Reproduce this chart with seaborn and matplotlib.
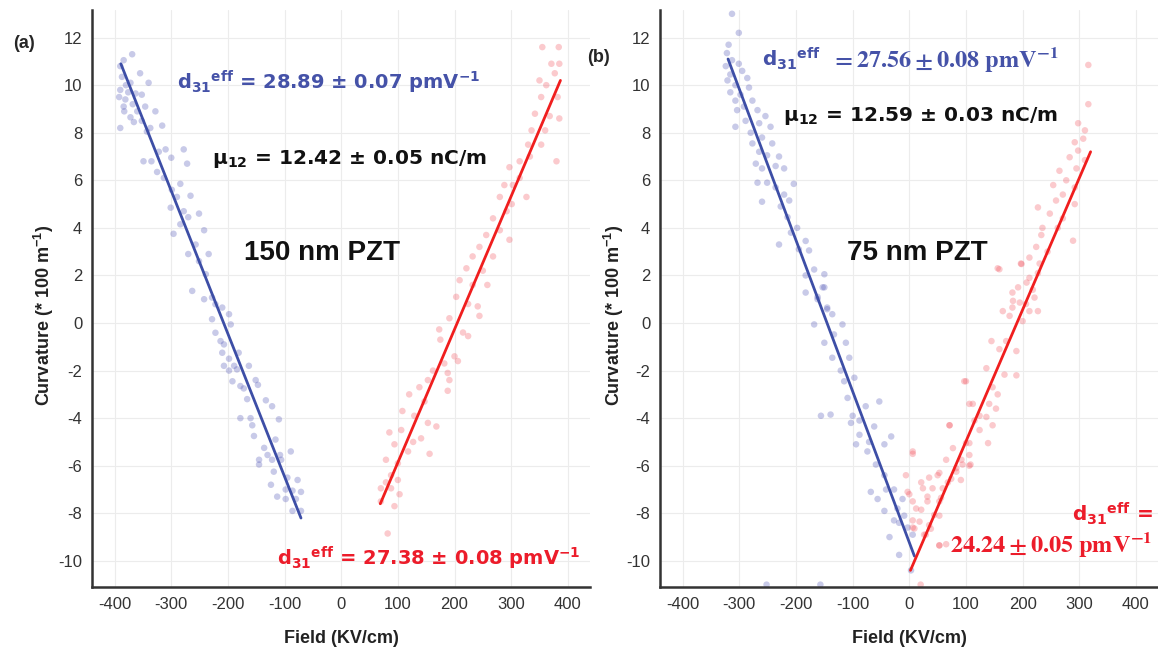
import matplotlib
matplotlib.use("Agg")
import matplotlib.pyplot as plt
import seaborn as sns

# ---------------- data ----------------
# Panel (a): 150 nm PZT
a_blue_x = [-369, -384, -390, -355, -387, -372, -340, -390, -363, -352, -381, -384, -346, -328,
            -372, -352, -366, -390, -337, -316, -343, -310, -278, -322, -349, -335, -300, -272,
            -325, -313, -284, -299, -266, -290, -301, -278, -251, -270, -284, -242, -296, -257,
            -234, -270, -251, -239, -263, -228, -380, -376, -368, -360, -392, -383,
            -242, -222, -210, -198, -228, -195, -222, -213, -207, -210, -181, -198, -207, -189,
            -163, -198, -184, -192, -151, -178, -147, -172, -166, -133, -122, -178, -160, -110,
            -157, -154, -116, -136, -89, -130, -145, -122, -108, -106, -145, -119, -95, -77,
            -124, -98, -86, -71, -113, -98, -80, -86, -71]
a_blue_y = [11.3, 11.05, 10.8, 10.5, 10.35, 10.1, 10.1, 9.8, 9.65, 9.6, 9.4, 9.1, 9.1, 8.9,
            8.65, 8.5, 8.45, 8.2, 8.2, 8.3, 8.05, 7.3, 7.3, 7.2, 6.8, 6.8, 6.95, 6.7,
            6.35, 6.1, 5.85, 5.6, 5.35, 5.3, 4.85, 4.7, 4.6, 4.45, 4.15, 3.9, 3.75, 3.3,
            2.9, 2.9, 2.6, 2.05, 1.35, 1.07, 10.0, 9.7, 9.2, 8.9, 9.5, 8.9,
            1.0, 0.79, 0.65, 0.37, 0.16, -0.06, -0.41, -0.76, -0.9, -1.25, -1.25, -1.5, -1.8, -1.8,
            -1.8, -2.0, -1.95, -2.45, -2.4, -2.65, -2.6, -2.75, -3.2, -3.25, -3.5, -4.0, -4.0, -4.05,
            -4.3, -4.75, -4.9, -5.25, -5.4, -5.55, -5.75, -5.75, -5.55, -5.75, -5.95, -6.25, -6.5, -6.6,
            -6.8, -7.0, -7.05, -7.1, -7.3, -7.4, -7.4, -7.9, -7.9]

a_red_x = [355, 384, 371, 385, 377, 350, 362, 353, 382, 342, 368, 385, 336, 360, 330, 353, 380,
           315, 333, 297, 315, 288, 303, 280, 327, 301, 292, 268, 256, 280, 297, 244, 232, 268,
           221, 250, 209, 232, 203,
           258, 224, 241, 244, 191, 173, 215, 224, 175, 200, 206, 182, 162, 188, 191, 153, 138,
           188, 120, 147, 108, 129, 153, 168, 85, 106, 141, 127, 94, 118, 156, 79, 100, 88, 79,
           70, 100, 88, 103, 94, 70, 82]
a_red_y = [11.6, 11.6, 10.9, 10.9, 10.5, 10.2, 10.0, 9.5, 9.5, 8.8, 8.7, 8.6, 8.1, 8.1, 7.5, 7.5, 6.8,
           6.8, 7.0, 6.55, 6.1, 5.8, 5.8, 5.3, 5.3, 5.0, 4.7, 4.4, 3.7, 3.9, 3.5, 3.2, 2.8, 2.8,
           2.3, 2.2, 1.8, 1.6, 1.1,
           1.6, 0.8, 0.7, 0.3, 0.2, -0.27, -0.4, -0.55, -0.7, -1.4, -1.6, -1.7, -2.0, -2.1, -2.4, -2.4, -2.7,
           -2.85, -3.0, -3.3, -3.7, -3.9, -4.2, -4.35, -4.6, -4.5, -4.85, -5.0, -5.1, -5.4, -5.5, -5.75, -5.9, -6.4, -6.7,
           -6.95, -6.6, -6.95, -7.2, -7.7, -7.5, -8.85]

a_blue_fit_x = [-389, -71]
a_blue_fit_y = [10.9, -8.2]
a_red_fit_x = [69, 387]
a_red_fit_y = [-7.6, 10.2]

# Panel (b): 75 nm PZT
b_blue_x = [-313, -301, -319, -322, -313, -301, -324, -295, -316, -286, -321, -307, -283, -316,
            -298, -277, -307, -292, -268, -304, -254, -289, -265, -307, -245, -280, -260, -277,
            -242, -265, -251, -230, -271, -236, -260, -221, -268, -251, -204, -236, -221, -260,
            -227, -212, -215, -198, -209, -183, -230, -177, -195, -168, -150, -183, -183, -150,
            -162, -145, -136, -168, -118,
            -153, -162, -145, -133, -150, -112, -136, -106, -121, -115, -97, -109, -156, -139,
            -100, -88, -53, -77, -103, -62, -88, -71, -32, -94, -74, -44, -59, -44, -68, -41,
            -56, -27, -44, -27, -18, -9, -3, -35, -18, 3, 6, -12, -21, -252, -157]
b_blue_y = [13.0, 12.2, 11.7, 11.35, 11.05, 10.9, 10.8, 10.6, 10.45, 10.3, 10.2, 10.0, 9.9, 9.7,
            9.6, 9.35, 9.35, 9.1, 8.95, 8.95, 8.7, 8.5, 8.4, 8.25, 8.25, 8.0, 7.8, 7.55,
            7.55, 7.2, 7.05, 7.0, 6.7, 6.6, 6.5, 6.5, 5.9, 5.9, 5.85, 5.7, 5.4, 5.1,
            4.9, 5.15, 4.45, 4.0, 3.8, 3.45, 3.3, 3.05, 3.1, 2.25, 2.05, 2.0, 1.28, 1.5,
            1.1, 0.65, 0.37, -0.06, -0.06,
            1.5, 1.0, 0.58, -0.48, -0.83, -0.83, -1.46, -1.46, -2.0, -2.45, -2.3, -3.15, -3.9, -3.85,
            -3.9, -4.1, -3.3, -3.5, -4.2, -4.35, -4.7, -5.0, -4.77, -5.1, -5.4, -5.1, -5.95, -6.4, -7.1, -7.0,
            -7.4, -7.0, -7.9, -8.3, -8.4, -8.1, -8.6, -9.0, -9.75, -10.4, -8.9, -7.4, -7.8, -11.0, -11.0]

b_red_x = [97, 112, 71, 106, 6, 92, 83, 108, 50, 68, -6, 21, 41, 0, 32, 56, 12, 53, 18, 6, 38,
           26, 53, 65,
           198, 159, 227, 207, 182, 221, 195, 182, 212, 200, 171, 145, 159, 189, 136, 168, 189,
           100, 147, 156, 106, 141, 153, 124, 136, 115, 71, 147, 124, 100, 139, 77, 106, 65, 94,
           106, 6, 53, 83, 35, 74, 91, 24, 59, -3, 32, 6, 53, 21, 44, 6, 35, 9, 53, 29,
           316, 316, 298, 310, 307, 292, 298, 283, 310, 295, 265, 277, 254, 292, 271, 259, 292,
           227, 248, 271, 235, 262, 233, 289, 224, 244, 212, 156, 197, 230, 212, 192, 218, 183,
           206, 165, 227, 177, 20]
b_red_y = [-2.45, -3.4, -4.3, -5.05, -5.4, -5.75, -6.1, -5.95, -6.4, -6.7, -6.4, -6.7, -6.95, -7.2,
           -7.5, -7.35, -7.8, -8.1, -8.35, -8.6, -8.65, -8.9, -9.35, -9.3,
           2.48, 2.26, 2.1, 1.7, 1.28, 1.07, 0.86, 0.65, 0.5, 0.08, -0.76, -0.76, -1.1, -1.18, -1.9,
           -2.17, -2.2, -2.45, -2.7, -3.0, -3.4, -3.4, -3.6, -3.9, -3.95, -4.1, -4.3, -4.3, -4.5,
           -5.05, -5.05, -5.26, -5.55, -5.75, -5.95, -6.0, -5.5, -6.3, -6.25, -6.5, -6.55, -6.6,
           -6.95, -6.95, -7.1, -7.3, -7.5, -7.5, -7.85, -8.07, -8.3, -8.5, -8.64, -9.35, -8.9,
           10.85, 9.2, 8.4, 8.1, 7.75, 7.6, 7.25, 6.97, 6.85, 6.5, 6.4, 6.0, 5.8, 5.7, 5.4, 5.15,
           5.0, 4.86, 4.6, 4.4, 4.0, 4.0, 3.7, 3.46, 3.2, 3.0, 2.75, 2.3, 2.5, 2.5, 1.9, 1.5, 1.4,
           0.93, 0.8, 0.5, 0.5, 0.3, -11.0]

b_blue_fit_x = [-320, 9]
b_blue_fit_y = [11.1, -9.8]
b_red_fit_x = [2, 320]
b_red_fit_y = [-10.4, 7.2]

x_ticks = [-400, -300, -200, -100, 0, 100, 200, 300, 400]
y_ticks = [-10, -8, -6, -4, -2, 0, 2, 4, 6, 8, 10, 12]

# ---------------- style ----------------
sns.set_theme(style="white")
plt.rcParams['font.family'] = ['Liberation Sans', 'DejaVu Sans']
plt.rcParams['axes.unicode_minus'] = False
plt.rcParams['mathtext.fontset'] = 'custom'
plt.rcParams['mathtext.rm'] = 'Liberation Sans'
plt.rcParams['mathtext.it'] = 'Liberation Sans:italic'
plt.rcParams['mathtext.bf'] = 'Liberation Sans:bold'

BLUE_PT = '#4b50b4'
RED_PT = '#f2505c'
BLUE_LN = '#3d4ea6'
RED_LN = '#f01e1e'
BLUE_TX = '#4552a8'
RED_TX = '#ec1c2a'

fig = plt.figure(figsize=(11.58, 6.5), dpi=100)
axA = fig.add_axes([0.0794, 0.0969, 0.4305, 0.8877])
axB = fig.add_axes([0.5700, 0.0969, 0.4305, 0.8877])


def style_axis(ax, ylab_x):
    ax.set_xlim(-440, 440)
    ax.set_ylim(-11.1, 13.16)
    ax.set_xticks(x_ticks)
    ax.set_yticks(y_ticks)
    ax.grid(True, color='#ececec', lw=0.8)
    ax.set_axisbelow(True)
    for s in ['top', 'right']:
        ax.spines[s].set_visible(False)
    for s in ['left', 'bottom']:
        ax.spines[s].set_color('#333333')
        ax.spines[s].set_linewidth(1.8)
    ax.tick_params(direction='out', length=4, width=1.2, color='#333333',
                   labelsize=12, labelcolor='#333333', pad=3)
    ax.set_xlabel("Field (KV/cm)", fontsize=13, fontweight='bold', color='#222222')
    ax.set_ylabel(r"Curvature (* 100 m$^{\mathbf{-1}}$)", fontsize=13, fontweight='bold',
                  color='#222222')
    ax.xaxis.set_label_coords(0.5, -0.075)
    ax.yaxis.set_label_coords(ylab_x, 0.47)


for ax, bx, by, rx, ry, bfx, bfy, rfx, rfy, ylx in [
        (axA, a_blue_x, a_blue_y, a_red_x, a_red_y, a_blue_fit_x, a_blue_fit_y, a_red_fit_x, a_red_fit_y, -0.072),
        (axB, b_blue_x, b_blue_y, b_red_x, b_red_y, b_blue_fit_x, b_blue_fit_y, b_red_fit_x, b_red_fit_y, -0.068)]:
    sns.scatterplot(x=bx, y=by, color=BLUE_PT, alpha=0.3, s=22, edgecolor='none', ax=ax,
                    legend=False, clip_on=False)
    sns.scatterplot(x=rx, y=ry, color=RED_PT, alpha=0.3, s=22, edgecolor='none', ax=ax,
                    legend=False, clip_on=False)
    sns.lineplot(x=bfx, y=bfy, color=BLUE_LN, lw=2, ax=ax)
    sns.lineplot(x=rfx, y=rfy, color=RED_LN, lw=2, ax=ax)
    style_axis(ax, ylx)

ANN = dict(family=['DejaVu Sans'], fontweight='bold', va='center', math_fontfamily='dejavusans')
D31 = r"d$_{\mathbf{31}}$$^{\mathbf{eff}}$"

# ---------------- annotations panel (a) ----------------
axA.text(-290, 10.1, D31 + r" = 28.89 ± 0.07 pmV$^{\mathbf{-1}}$",
         color=BLUE_TX, fontsize=14, **ANN)
axA.text(-228, 6.9, r"μ$_{\mathbf{12}}$ = 12.42 ± 0.05 nC/m",
         color='#111111', fontsize=14.5, **ANN)
axA.text(-171, 2.95, "150 nm PZT", color='#111111', fontsize=20, fontweight='bold', va='center')
axA.text(-113, -9.9, D31 + r" = 27.38 ± 0.08 pmV$^{\mathbf{-1}}$",
         color=RED_TX, fontsize=14, **ANN)

# ---------------- annotations panel (b) ----------------
axB.text(-260, 11.1, D31, color=BLUE_TX, fontsize=14.5, **ANN)
axB.text(-138, 11.1, r"$\mathbf{=27.56 \pm 0.08\ pmV^{-1}}$", math_fontfamily='stix',
         color=BLUE_TX, fontsize=17.5, va='center')
axB.text(-223, 8.7, r"μ$_{\mathbf{12}}$ = 12.59 ± 0.03 nC/m",
         color='#111111', fontsize=14.5, **ANN)
axB.text(-110, 2.95, "75 nm PZT", color='#111111', fontsize=20, fontweight='bold', va='center')
axB.text(430, -8.0, D31 + " =", color=RED_TX, fontsize=14.5, ha='right', **ANN)
axB.text(428, -9.3, r"$\mathbf{24.24 \pm 0.05\ pmV^{-1}}$", math_fontfamily='stix',
         color=RED_TX, fontsize=17.5, va='center', ha='right')

fig.text(24 / 1158, 1 - 44 / 650, "(a)", fontsize=13, fontweight='bold', ha='center', va='center')
fig.text(599 / 1158, 1 - 57 / 650, "(b)", fontsize=13, fontweight='bold', ha='center', va='center')

fig.savefig("out.png", dpi=100)
